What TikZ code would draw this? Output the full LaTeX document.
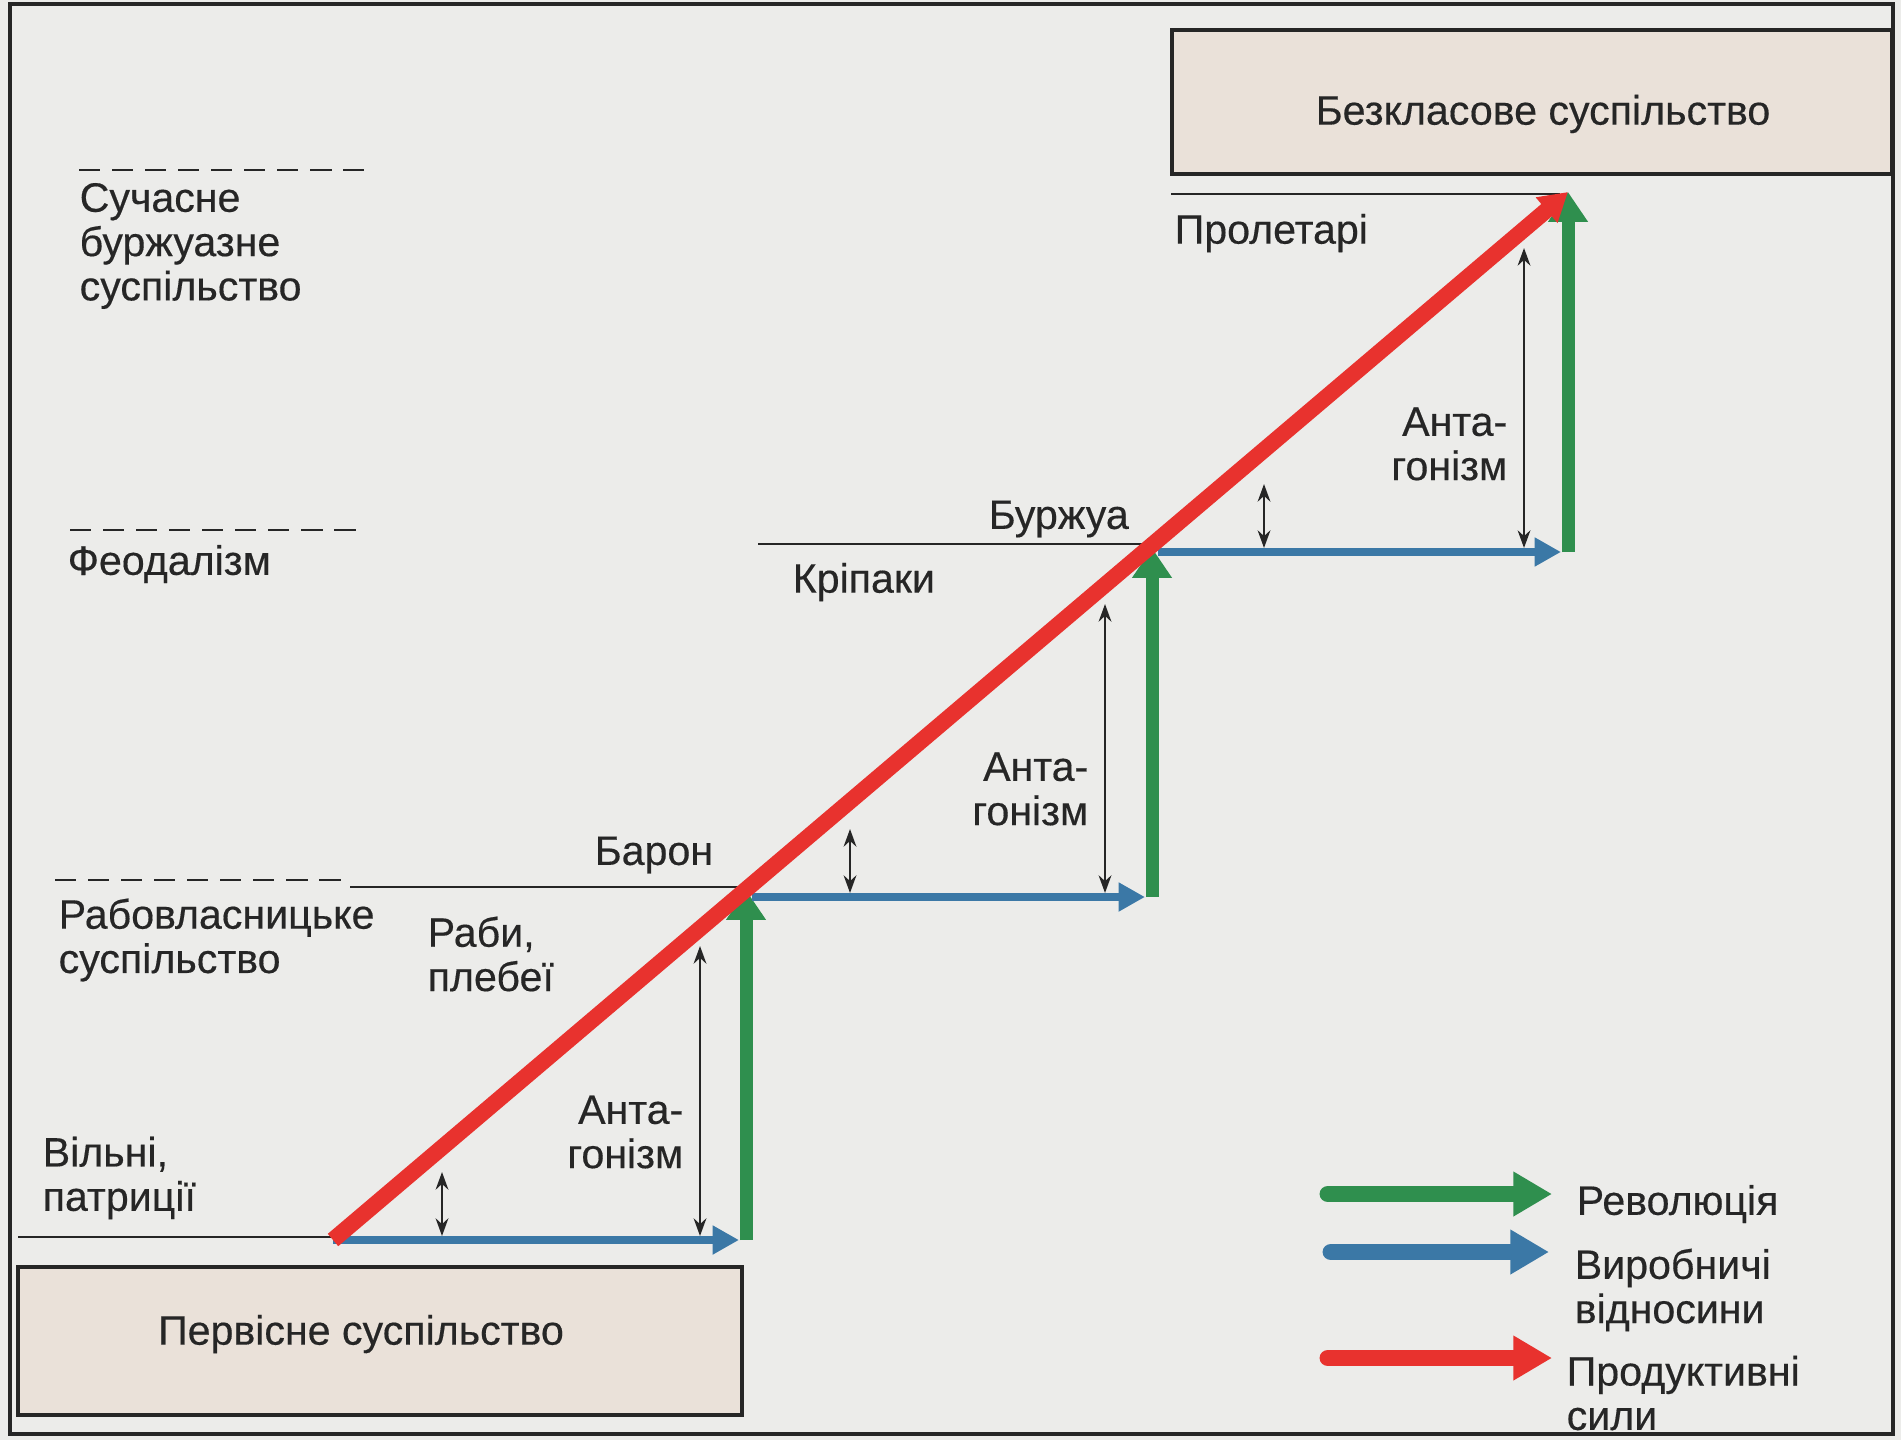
\documentclass[tikz,border=0pt]{standalone}
\usepackage{fontspec}
\setmainfont{Liberation Sans}[FakeBold=0.35]
\usepackage{tikz}
\usetikzlibrary{arrows.meta,positioning}

\definecolor{paper}{HTML}{ECECEA}
\definecolor{boxfill}{HTML}{EAE1D9}
\definecolor{ink}{HTML}{262626}
\definecolor{revgreen}{HTML}{2F8F4E}
\definecolor{relblue}{HTML}{3B78A6}
\definecolor{forcered}{HTML}{E8322E}

\tikzset{societybox/.style={draw=ink,line width=1.1pt,fill=boxfill},
    labeltext/.style={text=ink,font=\fontsize{11.7}{12.6}\selectfont,inner sep=0,align=left,anchor=west},
    antatext/.style={labeltext,align=right,anchor=east},
    groundline/.style={draw=ink,line width=0.8pt},
    dashedground/.style={groundline,dash pattern=on 6pt off 3.4pt},
    revolution/.style={draw=revgreen,line width=3.7pt,-{Triangle[length=8.5pt,width=10.8pt]}},
    relation/.style={draw=relblue,line width=2.4pt,shorten >=2pt,-{Triangle[length=7.5pt,width=7.8pt]}},
    forces/.style={draw=forcered,line width=4.6pt,-{Triangle[length=8pt,width=9pt]}},
    antagonism/.style={draw=ink,line width=0.8pt,{Stealth[length=5pt,width=3.6pt]}-{Stealth[length=5pt,width=3.6pt]}},
    legendarrow/.style={line width=4.8pt,line cap=round,-{Triangle[length=11pt,width=12pt]}}
}

\newcommand{\formationstep}[7]
{
% args: (step, x of start, x of corner, y of ground, y of top, x of short arrow, x of long arrow)
    \coordinate (ground#1) at (#2,#4);
    \coordinate (corner#1) at (#3,#4);
    \coordinate (top#1) at (#3,#5);
    \coordinate (shortlow#1) at (#6,#4-4);
    \coordinate (shorthigh#1) at (#6,#4-68);
    \coordinate (longlow#1) at (#7,#4-4);
    \coordinate (longhigh#1) at (#7,#5+56);

    \draw [relation] (ground#1) -- (corner#1);
    \draw [revolution] (corner#1) -- (top#1);
    \draw [antagonism] (shortlow#1) -- (shorthigh#1);
    \draw [antagonism] (longlow#1) -- (longhigh#1);

    \node (anta#1) at (#7-16,#4-108) [antatext] {Анта-\\гонізм};
}

\begin{document}
\begin{tikzpicture}[x=0.01cm,y=-0.01cm]

\useasboundingbox (0,0) rectangle (1901,1440);
\fill [paper] (0,0) rectangle (1901,1440);
\draw [ink,line width=1pt] (10,4) rectangle (1893,1434);

% societies
\node (classless) at (1532,102) [societybox,minimum width=7.2cm,minimum height=1.44cm] {};
\node (classlesstext) at (1543,114) [labeltext,anchor=center] {Безкласове суспільство};
\node (primitive) at (380,1341) [societybox,minimum width=7.24cm,minimum height=1.48cm] {};
\node (primitivetext) at (361,1334) [labeltext,anchor=center] {Первісне суспільство};

% levels
\draw [groundline] (18,1237) -- (333,1237);
\draw [dashedground] (55,880) -- (345,880);
\draw [groundline] (350,887) -- (746,887);
\draw [dashedground] (70,530) -- (358,530);
\draw [groundline] (758,544) -- (1152,544);
\draw [dashedground] (79,170) -- (364,170);
\draw [groundline] (1171,194) -- (1560,194);

\node (modern) at (79,246) [labeltext] {Сучасне\\буржуазне\\суспільство};
\node (feudal) at (67,564) [labeltext] {Феодалізм};
\node (slavery) at (58,940) [labeltext] {Рабовласницьке\\суспільство};

% classes
\node (free) at (42,1178) [labeltext] {Вільні,\\патриції};
\node (slaves) at (427,954) [labeltext] {Раби,\\плебеї};
\node (baron) at (594,855) [labeltext] {Барон};
\node (serfs) at (792,582) [labeltext] {Кріпаки};
\node (bourgeois) at (988,519) [labeltext] {Буржуа};
\node (proletarians) at (1174,233) [labeltext] {Пролетарі};

% steps
\formationstep{1}{333}{746}{1240}{890}{442}{700}
\formationstep{2}{752}{1152}{897}{548}{850}{1105}
\formationstep{3}{1158}{1568}{552}{192}{1264}{1524}

\draw [forces] (ground1) -- (top3);

% legend
\coordinate (legG) at (1328,1194);
\coordinate (legGend) at (1552,1194);
\coordinate (legB) at (1331,1252);
\coordinate (legBend) at (1549,1252);
\coordinate (legR) at (1328,1358);
\coordinate (legRend) at (1552,1358);

\draw [legendarrow,revgreen] (legG) -- (legGend);
\draw [legendarrow,relblue] (legB) -- (legBend);
\draw [legendarrow,forcered] (legR) -- (legRend);

\node (revlabel) at (1576,1204) [labeltext] {Революція};
\node (rellabel) at (1574,1290) [labeltext] {Виробничі\\відносини};
\node (forcelabel) at (1566,1393) [labeltext] {Продуктивні\\сили};

\end{tikzpicture}
\end{document}
